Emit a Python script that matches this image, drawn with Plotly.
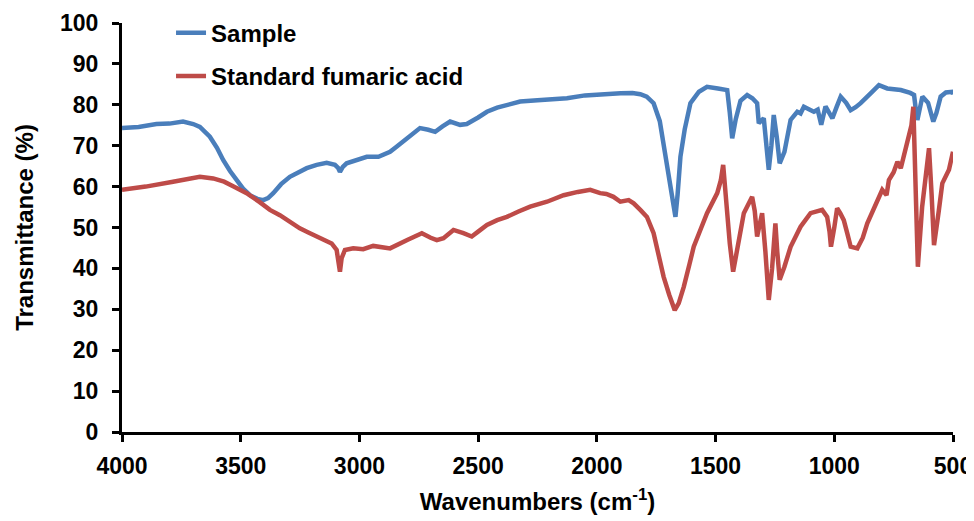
import plotly.graph_objects as go

# Sample spectrum (wavenumber cm-1, transmittance %)
sample_wn = [4000, 3930, 3855, 3800, 3743, 3700, 3672, 3630, 3600, 3574, 3545, 3518, 3490, 3461, 3430,
             3405, 3385, 3363, 3330, 3293, 3260, 3222, 3180, 3138, 3103, 3090, 3082, 3070, 3054,
             3010, 2969, 2920, 2871, 2845, 2815, 2780, 2745, 2710, 2681, 2650, 2618, 2576, 2548,
             2500, 2463, 2420, 2379, 2323, 2250, 2126, 2050, 1986, 1900, 1850, 1817, 1790, 1761,
             1735, 1712, 1690, 1669, 1660, 1648, 1630, 1606, 1570, 1536, 1490, 1451, 1440, 1430,
             1415, 1395, 1367, 1345, 1325, 1318, 1297, 1276, 1265, 1255, 1242, 1230, 1210, 1195,
             1184, 1156, 1142, 1128, 1114, 1100, 1086, 1070, 1055, 1037, 1020, 1008, 990, 973,
             950, 931, 910, 889, 847, 812, 777, 720, 680, 664, 657, 650, 640, 629, 605, 590,
             583, 570, 552, 530, 502, 500]
sample_t = [74.3, 74.6, 75.3, 75.4, 75.9, 75.3, 74.6, 72.2, 69.5, 66.5, 63.8, 61.6, 59.5, 57.9, 57.0,
            56.7, 57.2, 58.4, 60.6, 62.4, 63.5, 64.5, 65.3, 65.8, 65.3, 64.6, 63.6, 64.8, 65.7,
            66.5, 67.3, 67.3, 68.5, 69.7, 71.0, 72.7, 74.3, 73.9, 73.4, 74.7, 75.9, 75.1, 75.3,
            76.9, 78.3, 79.3, 80.0, 80.8, 81.1, 81.6, 82.3, 82.6, 82.8, 82.9, 82.6, 82.0, 80.4,
            76.0, 68.0, 60.5, 52.6, 58.0, 67.3, 74.0, 80.4, 83.2, 84.4, 84.0, 83.6, 78.0, 71.8,
            76.5, 81.0, 82.4, 81.6, 80.4, 75.5, 76.7, 64.1, 70.0, 77.5, 72.0, 65.7, 68.5, 73.0,
            76.3, 78.3, 77.9, 79.5, 79.1, 78.7, 78.3, 78.8, 75.1, 79.6, 78.0, 76.7, 79.5, 82.0,
            80.5, 78.7, 79.4, 80.4, 82.8, 84.8, 84.0, 83.6, 82.9, 82.4, 79.0, 76.3, 79.0, 82.0, 80.5, 77.5,
            75.9, 78.0, 82.0, 83.0, 83.2, 82.5]

# Standard fumaric acid spectrum
std_wn = [4000, 3900, 3785, 3720, 3672, 3616, 3570, 3532, 3475, 3420, 3377, 3335, 3290, 3251, 3215,
          3180, 3117, 3096, 3088, 3082, 3075, 3061, 3026, 2984, 2942, 2910, 2871, 2801, 2737,
          2700, 2674, 2646, 2604, 2562, 2527, 2500, 2463, 2420, 2379, 2330, 2281, 2210, 2140,
          2080, 2028, 1986, 1960, 1930, 1901, 1866, 1845, 1817, 1789, 1761, 1740, 1719, 1695,
          1672, 1655, 1634, 1610, 1592, 1560, 1536, 1493, 1478, 1468, 1455, 1440, 1426, 1400,
          1381, 1346, 1335, 1325, 1315, 1304, 1290, 1276, 1262, 1248, 1240, 1230, 1210, 1184,
          1142, 1100, 1051, 1030, 1020, 1014, 1000, 988, 975, 960, 945, 931, 903, 880, 861,
          830, 798, 780, 770, 750, 734, 720, 692, 675, 667, 660, 648, 630, 615, 601, 590,
          580, 560, 545, 517, 502, 500]
std_t = [59.2, 60.0, 61.2, 61.8, 62.4, 62.0, 61.2, 60.1, 58.4, 56.2, 54.3, 53.0, 51.3, 49.8, 48.8,
         47.8, 46.1, 44.5, 42.0, 39.2, 42.5, 44.5, 44.9, 44.7, 45.5, 45.2, 44.9, 46.9, 48.6,
         47.5, 46.9, 47.4, 49.4, 48.6, 47.8, 49.0, 50.6, 51.8, 52.6, 53.9, 55.1, 56.3, 57.9,
         58.7, 59.2, 58.4, 58.2, 57.5, 56.3, 56.7, 55.9, 54.3, 52.6, 48.6, 43.5, 38.0, 33.5,
         29.8, 31.5, 35.5, 41.0, 45.3, 50.0, 53.5, 58.4, 61.5, 65.3, 56.0, 46.0, 39.2, 47.0,
         53.5, 57.5, 54.0, 47.8, 51.0, 53.5, 44.0, 32.3, 40.0, 51.0, 44.0, 37.2, 40.4, 45.3,
         50.2, 53.5, 54.3, 52.6, 49.0, 45.3, 50.0, 54.7, 53.5, 51.8, 48.5, 45.3, 44.9, 47.5, 51.0,
         55.0, 59.2, 57.9, 61.6, 63.5, 66.1, 64.5, 70.6, 75.0, 79.5, 65.0, 40.4, 55.0, 63.0, 69.4, 58.0,
         45.7, 54.0, 60.8, 64.1, 68.5, 68.5]

x_ticks = [4000, 3500, 3000, 2500, 2000, 1500, 1000, 500]
y_ticks = [0, 10, 20, 30, 40, 50, 60, 70, 80, 90, 100]

FONT = "Liberation Sans, Arial, sans-serif"

fig = go.Figure()
fig.add_trace(go.Scatter(x=sample_wn, y=sample_t, mode="lines", name="Sample",
                         legendgroup="a",
                         line=dict(color="#4A7EBB", width=4.5)))
fig.add_trace(go.Scatter(x=std_wn, y=std_t, mode="lines", name="Standard fumaric acid",
                         legendgroup="b",
                         line=dict(color="#BE4B48", width=4.5)))

tick_font = dict(family=FONT, size=23, color="black", weight="bold")
title_font = dict(family=FONT, size=24, color="black", weight="bold")

# the page body adds an 8px offset, so the figure is sized to fit the 974x521 window
fig.update_layout(
    width=966, height=513,
    margin=dict(l=114, r=21, t=15, b=89, autoexpand=False),
    plot_bgcolor="white", paper_bgcolor="white",
    font=dict(family=FONT, color="black"),
    showlegend=True,
    legend=dict(x=0.059, y=1.03, xanchor="left", yanchor="top",
                bgcolor="rgba(0,0,0,0)", font=dict(family=FONT, size=24, color="black", weight="bold"),
                traceorder="grouped", tracegroupgap=9),
    xaxis=dict(range=[4000, 500], tickvals=x_ticks, ticktext=[str(v) for v in x_ticks],
               showgrid=False, zeroline=False, showline=True, linecolor="black", linewidth=3,
               ticks="outside", ticklen=7, tickwidth=3, tickcolor="black",
               tickfont=tick_font, automargin=False, ticklabelstandoff=4,
               title=dict(text="Wavenumbers (cm<sup>-1</sup>)", font=title_font, standoff=16)),
    yaxis=dict(range=[0, 100], tickvals=y_ticks, ticktext=[str(v) for v in y_ticks],
               showgrid=False, zeroline=False, showline=True, linecolor="black", linewidth=3,
               ticks="outside", ticklen=7, tickwidth=3, tickcolor="black",
               tickfont=tick_font, automargin=False, ticklabelstandoff=9,
               title=dict(text="Transmittance (%)", font=title_font, standoff=20)),
)

fig.write_html("out.html")
